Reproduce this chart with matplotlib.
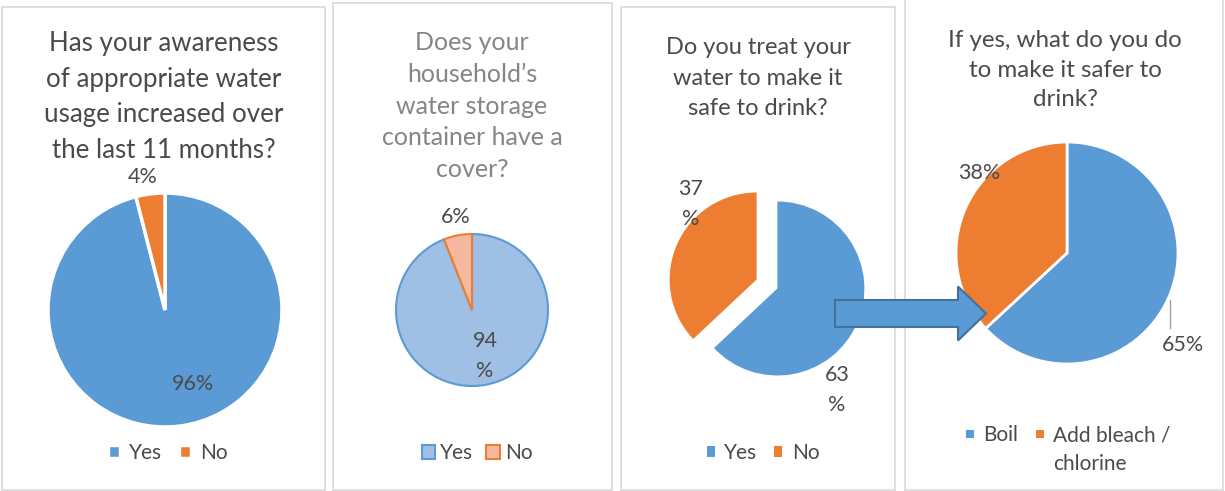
import matplotlib
matplotlib.use("Agg")
import matplotlib.pyplot as plt
from matplotlib.patches import Rectangle, FancyArrow

plt.rcParams['font.family'] = ['Lato', 'DejaVu Sans']

# data
titles = [
    "Has your awareness\nof appropriate water\nusage increased over\nthe last 11 months?",
    "Does your\nhousehold\u2019s\nwater storage\ncontainer have a\ncover?",
    "Do you treat your\nwater to make it\nsafe to drink?",
    "If yes, what do you do\nto make it safer to\ndrink?",
]
yes_no = ["Yes", "No"]
aware_vals = [96, 4]
cover_vals = [94, 6]
treat_vals = [63, 37]
method_labels = ["Boil", "Add bleach /\nchlorine"]
method_vals = [65, 38]

BLUE = '#5b9bd5'
ORANGE = '#ed7d31'
TXT = '#4a4a4a'
W, H = 1225, 491

fig = plt.figure(figsize=(W / 100, H / 100), dpi=100)

# overlay in pixel coords for frames, titles and arrow
ov = fig.add_axes([0, 0, 1, 1])
ov.set_xlim(0, W)
ov.set_ylim(H, 0)
ov.axis('off')

frames = [(2, 7, 323, 483), (333, 3, 279, 487), (621, 7, 274, 483), (905, -2, 318, 492)]
for x, y, w, h in frames:
    ov.add_patch(Rectangle((x, y), w, h, fill=False, ec='#d9d9d9', lw=1.2))

title_pos = [(164, 97, 18.6, TXT, 1.52), (472, 106, 18, '#858585', 1.47),
             (758, 78, 17, TXT, 1.56), (1065, 70, 17.4, TXT, 1.5)]
for t, (x, y, fs, c, ls) in zip(titles, title_pos):
    ov.text(x, y, t, ha='center', va='center', fontsize=fs, color=c, linespacing=ls)


def pie_axes(cx, cy, r, s=1.35):
    ax = fig.add_axes([(cx - s * r) / W, 1 - (cy + s * r) / H, 2 * s * r / W, 2 * s * r / H])
    ax.axis('off')
    return ax, s


def fix(ax, s):
    ax.set_xlim(-s, s)
    ax.set_ylim(-s, s)
    ax.set_aspect('equal')


def put(ax, cx, cy, r, px, py, txt, fs=15.5):
    ax.text((px - cx) / r, (cy - py) / r, txt, ha='center', va='center',
            fontsize=fs, color=TXT, linespacing=1.65, zorder=5)


leg_kw = dict(loc='center', bbox_transform=fig.transFigure, ncol=2, frameon=False,
              fontsize=15, handletextpad=0.45, columnspacing=0.8, labelcolor=TXT,
              borderaxespad=0, borderpad=0)

# panel 1
cx, cy, r = 165, 310, 117
ax1, s = pie_axes(cx, cy, r)
w1, _ = ax1.pie(aware_vals, colors=[BLUE, ORANGE], startangle=90, counterclock=False,
                wedgeprops=dict(edgecolor='white', linewidth=2.5))
fix(ax1, s)
put(ax1, cx, cy, r, 193, 384, f"{aware_vals[0]}%")
put(ax1, cx, cy, r, 143, 177, f"{aware_vals[1]}%")
ax1.legend(w1, yes_no, bbox_to_anchor=(168 / W, 1 - 453 / H),
           handlelength=0.55, handleheight=0.55, **leg_kw)

# panel 2
cx, cy, r = 472, 310, 76
ax2, s = pie_axes(cx, cy, r)
w2, _ = ax2.pie(cover_vals, colors=['#a0bfe5', '#f5b9a0'], startangle=90, counterclock=False,
                wedgeprops=dict(linewidth=1.5))
fix(ax2, s)
w2[0].set_edgecolor(BLUE)
w2[1].set_edgecolor(ORANGE)
put(ax2, cx, cy, r, 456, 217, f"{cover_vals[1]}%")
put(ax2, cx, cy, r, 485, 356, f"{cover_vals[0]}\n%")
kw2 = dict(leg_kw, handletextpad=0.25, columnspacing=0.6)
ax2.legend(w2, yes_no, bbox_to_anchor=(477 / W, 1 - 453 / H),
           handlelength=0.65, handleheight=0.65, **kw2)

# panel 3
cx, cy, r = 767, 284, 87
ax3, s = pie_axes(cx, cy, r)
w3, _ = ax3.pie(treat_vals, colors=[BLUE, ORANGE], startangle=90, counterclock=False,
                explode=[0.13, 0.13])
fix(ax3, s)
put(ax3, cx, cy, r, 691, 204, f"{treat_vals[1]}\n%")
put(ax3, cx, cy, r, 837, 390, f"{treat_vals[0]}\n%")
ax3.legend(w3, yes_no, bbox_to_anchor=(763 / W, 1 - 453 / H),
           handlelength=0.4, handleheight=0.4, **leg_kw)

# panel 4
cx, cy, r = 1067, 253, 111
ax4, s = pie_axes(cx, cy, r)
w4, _ = ax4.pie(method_vals, colors=[BLUE, ORANGE], startangle=90, counterclock=False,
                wedgeprops=dict(edgecolor='white', linewidth=2))
fix(ax4, s)
put(ax4, cx, cy, r, 979, 173, f"{method_vals[1]}%")
put(ax4, cx, cy, r, 1183, 345, f"{method_vals[0]}%")
ax4.plot([(1170 - cx) / r] * 2, [(cy - 300) / r, (cy - 328) / r], color='#a6a6a6', lw=1)

# legend of panel 4 drawn by hand so the marker sits on the first text line
for (mx, ly), lab, col in zip([(970, 434), (1040, 434)], method_labels, [BLUE, ORANGE]):
    ov.add_patch(Rectangle((mx - 4, ly - 4), 8, 8, fc=col, ec='none'))
    ov.text(mx + 13, ly - 9, lab, ha='left', va='top', fontsize=15, color=TXT,
            linespacing=1.55)

# block arrow from panel 3 to panel 4
arrow_ax = fig.add_axes([0, 0, 1, 1], zorder=10)
arrow_ax.set_xlim(0, W)
arrow_ax.set_ylim(H, 0)
arrow_ax.axis('off')
arrow_ax.add_patch(FancyArrow(835, 313.5, 151, 0, width=27, head_width=54, head_length=28,
                              length_includes_head=True, fc=BLUE, ec='#41719c', lw=1.5))

fig.savefig("out.png", dpi=100)
